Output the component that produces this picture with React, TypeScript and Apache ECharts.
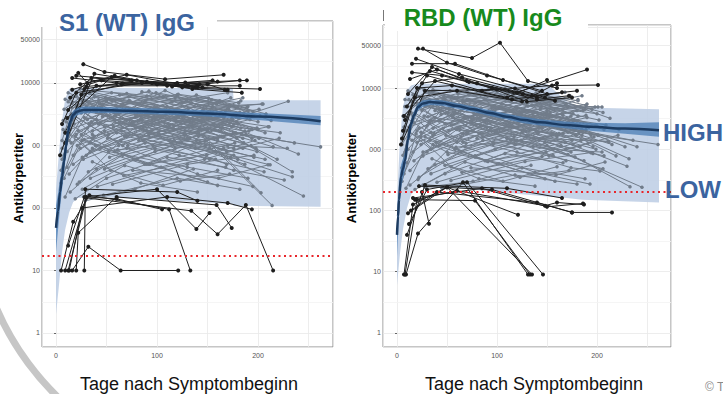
import React, { useEffect, useRef } from "react";
import * as echarts from "echarts";

// ---------- cut-offs ----------
const S1_CUTOFF = 17;
const RBD_CUTOFF = 200;

// ---------- fitted curves (day, titer) ----------
const S1_FIT_DAYS = [0, 2, 4, 6, 8, 10, 12, 14, 17, 21, 27, 40, 70, 110, 150, 200, 262];
const S1_FIT = [48, 90, 180, 320, 560, 1000, 1700, 2400, 3100, 3500, 3700, 3700, 3600, 3450, 3250, 2900, 2450];
const S1_CI_HI = [110, 170, 300, 480, 800, 1350, 2200, 2900, 3600, 4000, 4200, 4150, 4000, 3850, 3650, 3300, 2950];
const S1_CI_LO = [20, 45, 100, 200, 380, 720, 1300, 1950, 2650, 3050, 3250, 3300, 3250, 3100, 2900, 2550, 2100];

const S1_PI_DAYS = [0, 3, 6, 9, 13, 17, 22, 40, 100, 175, 176, 262];
const S1_PI_HI = [200, 800, 2500, 5500, 8000, 8300, 8300, 8300, 8300, 8300, 5300, 5300];
const S1_PI_LO = [2, 6, 20, 45, 85, 125, 145, 150, 135, 115, 108, 105];

const RBD_FIT_DAYS = [0, 1, 2, 4, 6, 8, 11, 14, 17, 21, 26, 33, 45, 60, 76, 93, 110, 127, 143, 168, 193, 228, 262];
const RBD_FIT = [40, 80, 150, 360, 480, 650, 1450, 2600, 3600, 4900, 5600, 5900, 5700, 5100, 4500, 3900, 3400, 3000, 2750, 2500, 2330, 2180, 2050];
const RBD_CI_HI = [90, 160, 280, 560, 700, 900, 1850, 3100, 4200, 5600, 6300, 6500, 6300, 5650, 5000, 4350, 3800, 3350, 3100, 2850, 2700, 2650, 2750];
const RBD_CI_LO = [18, 40, 80, 230, 330, 470, 1130, 2150, 3100, 4300, 4950, 5300, 5150, 4600, 4050, 3500, 3050, 2650, 2450, 2200, 2000, 1800, 1600];

const RBD_PI_DAYS = [0, 3, 6, 10, 14, 20, 60, 150, 170, 185, 262];
const RBD_PI_HI = [150, 1500, 5000, 9000, 11000, 11700, 11700, 11700, 6000, 4800, 4500];
const RBD_PI_LO = [6, 20, 50, 110, 180, 240, 230, 170, 160, 150, 135];

// ---------- axis helpers ----------
const X_LABELS = [0, 100, 200];
const Y_MINOR = [3.16, 31.6, 316, 3160, 22400];
const Y_EXTRA_BREAK = 50000;
const Y_LABEL_MAX = 50000;

// ---------- individual trajectories: [day, titer, day, titer, ...] ----------
const S1_GREY: number[][] = [
  [6, 900, 30, 3500, 95, 2200, 160, 1300],
  [7, 2500, 38, 6000, 110, 4200, 175, 2600],
  [8, 300, 26, 1200, 85, 2600, 150, 1700],
  [9, 5500, 45, 3800, 120, 6500, 180, 4000],
  [10, 1600, 52, 800, 130, 450, 190, 300],
  [11, 450, 33, 2200, 100, 3200, 165, 1900],
  [12, 7000, 60, 3200, 128, 1700, 185, 900],
  [13, 1200, 42, 5200, 118, 2600, 172, 1500],
  [14, 180, 40, 420, 98, 900, 158, 600],
  [15, 3200, 70, 900, 140, 350, 195, 220],
  [16, 4800, 55, 7000, 125, 4800, 178, 3000],
  [17, 700, 48, 1700, 115, 5000, 170, 7000],
  [18, 2200, 64, 4300, 135, 2000],
  [19, 140, 50, 300, 110, 650, 168, 450],
  [20, 6200, 58, 2600, 122, 1100, 176, 700],
  [21, 1000, 75, 2100, 145, 3600, 200, 2400],
  [22, 3800, 68, 1400, 138, 900, 188, 1500],
  [23, 260, 66, 700, 132, 1300],
  [24, 8000, 72, 5200, 142, 3200],
  [25, 1500, 80, 600, 150, 260],
  [26, 5000, 90, 6200, 155, 4200, 205, 4600],
  [27, 600, 62, 1000, 124, 2200, 182, 3400],
  [28, 2800, 86, 2000, 148, 1200, 210, 2000],
  [29, 130, 78, 200, 136, 420],
  [30, 4200, 96, 2800, 162, 5200],
  [31, 1900, 74, 3900, 144, 1800, 198, 900],
  [32, 380, 88, 1100, 158, 800, 212, 490],
  [33, 6800, 100, 4000, 165, 2300, 230, 5100],
  [34, 1100, 92, 500, 160, 230],
  [35, 2400, 102, 1500, 170, 1000, 229, 900],
  [36, 550, 84, 250, 140, 180],
  [37, 7500, 106, 6000, 168, 3600],
  [38, 1400, 108, 3000, 174, 2000, 240, 730],
  [40, 3400, 112, 1200, 180, 600, 234, 315],
  [41, 220, 104, 450, 166, 900],
  [43, 4600, 114, 3400, 184, 1500, 262, 950],
  [44, 900, 116, 1900, 186, 1100],
  [46, 2900, 118, 5800, 190, 3600],
  [47, 160, 120, 300, 182, 200],
  [49, 5800, 126, 2900, 194, 1800],
  [51, 1300, 122, 700, 176, 400, 226, 280],
  [53, 650, 127, 1500, 192, 2600],
  [54, 3600, 134, 2300, 203, 175],
  [56, 240, 130, 500, 196, 700],
  [57, 2000, 137, 4200, 202, 3000],
  [59, 4400, 141, 1600, 214, 110],
  [61, 850, 139, 1200, 191, 1700],
  [63, 6400, 146, 3800, 204, 4600],
  [65, 1700, 152, 900, 245, 155],
  [67, 330, 147, 600, 193, 1000],
  [69, 2600, 154, 5400, 208, 3200],
  [71, 1000, 157, 2700, 211, 2000],
  [73, 5200, 159, 2000, 234, 380],
  [76, 400, 161, 300, 210, 490],
  [79, 3000, 164, 1400],
  [82, 1200, 167, 3000],
  [85, 7200, 171, 4400],
  [89, 2200, 173, 650],
  [93, 500, 177, 1100],
  [97, 4000, 179, 2400],
  [101, 1600, 183, 5200],
  [105, 2800, 187, 1700],
  [5, 400, 14, 1800, 40, 2600],
  [6, 1200, 16, 4000, 50, 5200],
  [8, 700, 18, 2800, 36, 1500],
];

const S1_GREY_2: number[][] = [
  [5, 250, 20, 1500, 60, 3800, 120, 2400, 185, 1300],
  [6, 600, 22, 4200, 80, 2900, 140, 5600, 195, 3500],
  [7, 1800, 34, 800, 90, 1700, 150, 3300, 200, 1800],
  [8, 3800, 28, 6500, 75, 2300, 130, 1300, 180, 2200],
  [9, 150, 26, 650, 70, 1400, 125, 3100, 176, 1600],
  [10, 2400, 36, 1300, 82, 4600, 136, 2600, 190, 4200],
  [11, 800, 44, 3300, 96, 1000, 152, 600, 206, 380],
  [12, 5000, 48, 2000, 104, 3600, 162, 1400],
  [13, 350, 36, 900, 88, 500, 142, 1100, 196, 650],
  [14, 2900, 52, 5600, 112, 2100, 171, 3800],
  [15, 1100, 56, 2800, 108, 7600, 166, 2800],
  [16, 6000, 46, 4600, 92, 7400, 150, 3000],
  [17, 500, 60, 1600, 117, 1200, 174, 2700],
  [18, 3000, 66, 1000, 121, 2800, 179, 1300],
  [19, 1400, 54, 400, 106, 230, 160, 400],
  [20, 4400, 70, 6800, 131, 3900, 185, 5800],
  [21, 240, 64, 1200, 119, 3800, 176, 2200],
  [22, 1700, 58, 3000, 114, 1100, 169, 500],
  [23, 5600, 76, 2400, 129, 5200, 181, 2700],
  [24, 900, 82, 2500, 141, 1400, 199, 800],
  [25, 3300, 72, 6000, 127, 3400, 183, 1900],
  [26, 200, 68, 480, 123, 270, 172, 350],
  [27, 7200, 84, 3600, 139, 6400, 189, 4000],
  [28, 1250, 90, 500, 149, 700, 197, 1200],
  [29, 3900, 94, 1700, 153, 2900, 207, 1600],
  [30, 700, 79, 1900, 134, 4800, 186, 3300],
  [31, 2600, 99, 7000, 159, 4600],
  [32, 4900, 86, 1200, 144, 2500, 201, 3800],
  [34, 300, 98, 800, 157, 1800, 215, 950],
  [36, 1700, 103, 3700, 163, 1700, 219, 600],
  [38, 6000, 109, 2000, 169, 800, 221, 1300],
  [39, 1000, 111, 2600, 173, 5800],
  [42, 2200, 118, 900, 178, 1600, 236, 1100],
  [45, 4200, 121, 6600, 181, 4800],
  [48, 420, 124, 1100, 187, 500],
  [50, 3100, 128, 1500, 189, 2800],
  [52, 1500, 133, 3200, 194, 1300],
  [55, 5400, 136, 3000, 199, 1900],
  [58, 800, 142, 1900, 201, 1300],
  [62, 2300, 148, 1000, 207, 600],
  [66, 4600, 151, 5700, 213, 2500],
  [70, 1400, 156, 2200, 222, 1600],
  [74, 3500, 160, 1200],
  [78, 600, 166, 1400],
  [84, 2700, 170, 3900],
  [88, 5000, 172, 2300],
  [92, 1500, 176, 900],
];

const S1_BLACK_HIGH: number[][] = [
  [27, 20000, 48, 15000, 108, 11500, 166, 13500],
  [22, 14500, 31, 10000, 70, 13500, 130, 9000, 182, 11000],
  [16, 12000, 60, 10000, 120, 10000, 189, 11000],
  [16, 7800, 45, 11000, 100, 9500, 140, 8500, 202, 8000],
  [14, 5800, 35, 12000, 90, 10500, 135, 8000, 184, 7000],
  [12, 3700, 40, 9000, 110, 9000, 160, 10500],
  [11, 2750, 55, 12500, 125, 8500, 170, 7800],
  [9, 1600, 28, 8000, 80, 11000, 131, 9000],
  [9, 1100, 38, 14000, 95, 10000, 145, 8500],
  [4, 700, 25, 6500, 65, 9500, 140, 9000, 182, 9000],
  [20, 13000, 75, 11000, 150, 9500, 167, 7800],
  [6, 2200, 20, 7000, 85, 10000, 138, 8500],
  [24, 9500, 58, 13000, 115, 8800, 142, 9500],
  [30, 8800, 66, 9800, 128, 10200, 155, 11000],
];

const S1_BLACK_LOW: number[][] = [
  [9, 10, 30, 150, 60, 140, 105, 95],
  [12, 10, 30, 145, 134, 90, 160, 38, 188, 112, 215, 10],
  [16, 10, 32, 24, 64, 10, 121, 10],
  [20, 10, 22, 40, 60, 150, 159, 112, 174, 48],
  [5, 10, 17, 60, 33, 160, 112, 95, 133, 10],
  [12, 25, 28, 150, 100, 200, 139, 46, 152, 83],
  [13, 10, 26, 100, 110, 150, 170, 120, 194, 95],
  [28, 10, 29, 200, 120, 180, 140, 130],
];

const RBD_GREY: number[][] = [
  [5, 1200, 28, 5000, 90, 3000, 155, 1800],
  [6, 3500, 35, 8500, 105, 5500, 170, 3200],
  [7, 400, 24, 1600, 80, 3600, 145, 2200],
  [8, 6500, 42, 4500, 115, 7500, 178, 4800],
  [9, 2000, 50, 900, 125, 500, 188, 330],
  [10, 600, 32, 2800, 98, 4000, 160, 2400],
  [11, 9000, 58, 4000, 126, 2000, 183, 1100],
  [12, 1500, 40, 6500, 116, 3200, 171, 1900],
  [13, 260, 38, 560, 96, 1200, 156, 800],
  [14, 4000, 68, 1100, 138, 420, 193, 270],
  [15, 6000, 53, 9000, 123, 6000, 176, 3800],
  [16, 900, 46, 2200, 113, 6200, 168, 8500],
  [17, 2700, 62, 5500, 133, 2500],
  [18, 220, 48, 400, 108, 850, 166, 600],
  [19, 7800, 56, 3300, 120, 1400, 174, 900],
  [20, 1300, 73, 2700, 143, 4500, 198, 4900],
  [21, 4800, 66, 1800, 136, 1100, 186, 1900],
  [22, 350, 64, 900, 130, 1700],
  [23, 10000, 70, 6500, 140, 4000],
  [24, 1900, 78, 750, 148, 330],
  [25, 6300, 88, 7800, 153, 5300, 205, 4900],
  [26, 780, 60, 1300, 122, 2800, 180, 4300],
  [27, 3500, 84, 2500, 146, 1500, 211, 1350],
  [28, 240, 76, 300, 134, 550],
  [29, 5300, 94, 3500, 160, 6500],
  [30, 2400, 72, 4900, 142, 2300, 196, 1100],
  [31, 480, 86, 1400, 156, 1000, 205, 900],
  [32, 8500, 98, 5000, 163, 2900, 228, 1100],
  [33, 1400, 90, 650, 158, 300],
  [34, 3000, 100, 1900, 168, 1300, 230, 530],
  [35, 700, 82, 330, 138, 250],
  [36, 9400, 104, 7500, 166, 4500],
  [37, 1800, 106, 3800, 172, 2500, 240, 1100],
  [38, 4300, 110, 1500, 178, 750, 233, 245],
  [40, 290, 102, 580, 164, 1150],
  [41, 5800, 112, 4300, 182, 1900, 261, 1200],
  [42, 1150, 114, 2400, 184, 1400],
  [44, 3700, 116, 7300, 188, 4500],
  [45, 230, 118, 380, 180, 270],
  [47, 7300, 124, 3700, 192, 2300],
  [49, 1700, 120, 900, 174, 500, 203, 440],
  [51, 820, 125, 1900, 190, 3300],
  [52, 4500, 132, 2900, 201, 1700],
  [54, 310, 128, 630, 194, 880],
  [55, 2500, 135, 5300, 200, 3800],
  [57, 5500, 139, 2000, 212, 1300],
  [59, 1080, 137, 1500, 189, 2100],
  [61, 8000, 144, 4800, 202, 3000],
  [63, 2100, 150, 1150, 245, 240],
  [65, 420, 145, 760, 191, 1250],
  [67, 3300, 152, 6800, 206, 4000],
  [69, 1250, 155, 3400, 209, 2500],
  [71, 6500, 157, 2500, 232, 700],
  [74, 500, 159, 380, 208, 620],
  [77, 3800, 162, 1750],
  [80, 1500, 165, 3800],
  [83, 9000, 169, 5500],
  [87, 2800, 171, 820],
  [91, 630, 175, 1400],
  [95, 5000, 177, 3000],
  [99, 2000, 181, 6500],
  [103, 3500, 185, 2100],
  [5, 500, 12, 2300, 38, 3300],
  [6, 1500, 14, 5000, 48, 6500],
  [8, 900, 16, 3500, 34, 1900],
];

const RBD_GREY_2: number[][] = [
  [5, 300, 20, 2000, 60, 5200, 120, 3300, 185, 1700],
  [6, 800, 22, 5500, 80, 3800, 140, 7300, 195, 4500],
  [7, 2300, 34, 1000, 90, 2300, 150, 4300, 200, 2400],
  [8, 5000, 28, 8500, 75, 3100, 130, 1700, 180, 2900],
  [9, 230, 26, 900, 70, 1900, 125, 4100, 176, 2100],
  [10, 3200, 36, 1700, 82, 6000, 136, 3400, 190, 5500],
  [11, 1000, 44, 4300, 96, 1300, 152, 780, 206, 480],
  [12, 6500, 48, 2600, 104, 4700, 162, 1800],
  [13, 450, 36, 1200, 88, 650, 142, 1400, 196, 850],
  [14, 3800, 52, 7300, 112, 2700, 171, 5000],
  [15, 1400, 56, 3600, 108, 9800, 166, 3600],
  [16, 7800, 46, 6000, 92, 9600, 150, 3900],
  [17, 650, 60, 2100, 117, 1600, 174, 3500],
  [18, 3900, 66, 1300, 121, 3600, 179, 1700],
  [19, 1800, 54, 520, 106, 300, 160, 520],
  [20, 5700, 70, 8800, 131, 5100, 185, 7500],
  [21, 320, 64, 1600, 119, 4900, 176, 2900],
  [22, 2200, 58, 3900, 114, 1400, 169, 650],
  [23, 7300, 76, 3100, 129, 6800, 181, 3500],
  [24, 1200, 82, 3200, 141, 1800, 199, 1000],
  [25, 4300, 72, 7800, 127, 4400, 183, 2500],
  [26, 260, 68, 620, 123, 350, 172, 450],
  [27, 9300, 84, 4700, 139, 8300, 189, 5200],
  [28, 1600, 90, 650, 149, 900, 197, 1600],
  [29, 5100, 94, 2200, 153, 3800, 207, 2100],
  [30, 900, 79, 2500, 134, 6200, 186, 4300],
  [31, 3400, 99, 9100, 159, 6000],
  [32, 6400, 86, 1600, 144, 3200, 201, 4900],
  [34, 400, 98, 1000, 157, 2300, 215, 1200],
  [36, 2200, 103, 4800, 163, 2200, 219, 780],
  [38, 7800, 109, 2600, 169, 1000, 221, 1700],
  [39, 1300, 111, 3400, 173, 7500],
  [42, 2900, 118, 1200, 178, 2100, 236, 1400],
  [45, 5500, 121, 8600, 181, 6200],
  [48, 550, 124, 1400, 187, 650],
  [50, 4000, 128, 2000, 189, 3600],
  [52, 2000, 133, 4200, 194, 1700],
  [55, 7000, 136, 3900, 199, 2500],
  [58, 1000, 142, 2500, 201, 1700],
  [62, 3000, 148, 1300, 207, 780],
  [66, 6000, 151, 7400, 213, 3200],
  [70, 1800, 156, 2900, 222, 2100],
  [74, 4500, 160, 1600],
  [78, 780, 166, 1800],
  [84, 3500, 170, 5100],
  [88, 6500, 172, 3000],
  [92, 2000, 176, 1200],
];

const RBD_BLACK_HIGH: number[][] = [
  [21, 44000, 75, 31000, 103, 55000, 131, 13000, 160, 10000],
  [26, 44000, 50, 26000, 90, 16000, 145, 9000],
  [15, 25000, 58, 25000, 106, 13500, 150, 8000],
  [15, 18000, 45, 16000, 95, 10000, 140, 7000],
  [13, 14000, 40, 20000, 80, 12000, 130, 6000, 175, 7000],
  [11, 8000, 35, 22000, 70, 13000, 120, 8500, 190, 20000],
  [10, 5000, 30, 16000, 85, 9000, 155, 11000, 201, 11200],
  [8, 3000, 25, 12000, 65, 15000, 135, 7500, 180, 9000],
  [6, 2000, 20, 10000, 55, 11000, 115, 6500, 165, 8500],
  [5, 1500, 18, 7000, 60, 9000, 125, 6000, 160, 12000],
  [4, 1200, 28, 9000, 100, 9500, 140, 6500, 172, 7500],
  [7, 3500, 38, 13000, 110, 7000, 150, 13500],
  [19, 30000, 62, 17000, 118, 9800, 148, 7000],
  [33, 19000, 72, 12500, 126, 8000, 158, 6200],
];

const RBD_BLACK_LOW: number[][] = [
  [7, 9, 16, 125, 50, 240, 121, 85],
  [9, 9, 21, 42, 66, 290, 131, 9],
  [8, 9, 20, 150, 78, 145, 133, 9],
  [12, 60, 30, 220, 70, 290, 146, 9],
  [14, 100, 40, 200, 140, 135, 175, 93],
  [18, 150, 60, 210, 148, 120, 160, 135, 187, 125],
  [22, 250, 95, 220, 175, 93, 215, 93],
  [25, 200, 32, 61],
  [11, 90, 50, 240, 135, 9],
  [16, 160, 85, 230, 150, 115, 186, 130],
  [10, 40, 28, 260, 110, 230, 165, 160],
];

// ---------- builders ----------
const FONT = '"Liberation Sans", Arial, sans-serif';
const GREY = "#717c8a";
const BLACK = "#1e1e1e";

function pairs(flat: number[]): number[][] {
  const out: number[][] = [];
  for (let i = 0; i < flat.length; i += 2) out.push([flat[i], flat[i + 1]]);
  return out;
}

function trajSeries(list: number[][], g: number, color: string, size: number, z: number) {
  return list.map((flat) => ({
    type: "line",
    xAxisIndex: g,
    yAxisIndex: g,
    data: pairs(flat),
    symbol: "circle",
    symbolSize: size,
    showSymbol: true,
    lineStyle: { color, width: 1 },
    itemStyle: { color },
    z,
    silent: true,
    animation: false,
  }));
}

function bandSeries(days: number[], hi: number[], lo: number[], g: number, color: string, opacity: number, z: number) {
  return {
    type: "custom",
    xAxisIndex: g,
    yAxisIndex: g,
    z,
    silent: true,
    clip: true,
    data: [[days[0], hi[0]]],
    renderItem: (_params: any, api: any) => {
      const pts: number[][] = [];
      for (let i = 0; i < days.length; i++) pts.push(api.coord([days[i], hi[i]]));
      for (let i = days.length - 1; i >= 0; i--) pts.push(api.coord([days[i], lo[i]]));
      return { type: "polygon", shape: { points: pts }, style: { fill: color, opacity } };
    },
  };
}

type Panel = {
  grid: any;
  xmin: number;
  xmax: number;
  ymin: number;
  ymax: number;
  grey: number[][];
  high: number[][];
  low: number[][];
  fitDays: number[];
  fit: number[];
  ciHi: number[];
  ciLo: number[];
  piDays: number[];
  piHi: number[];
  piLo: number[];
  cutoff: number;
};

const PANELS: Panel[] = [
  {
    grid: { left: 42, top: 21, width: 291, height: 326 },
    xmin: -13.9, xmax: 274.3, ymin: 0.597, ymax: 98000,
    grey: [...S1_GREY, ...S1_GREY_2], high: S1_BLACK_HIGH, low: S1_BLACK_LOW,
    fitDays: S1_FIT_DAYS, fit: S1_FIT, ciHi: S1_CI_HI, ciLo: S1_CI_LO,
    piDays: S1_PI_DAYS, piHi: S1_PI_HI, piLo: S1_PI_LO,
    cutoff: S1_CUTOFF,
  },
  {
    grid: { left: 383, top: 25, width: 288, height: 322 },
    xmin: -14, xmax: 274, ymin: 0.59, ymax: 107000,
    grey: [...RBD_GREY, ...RBD_GREY_2], high: RBD_BLACK_HIGH, low: RBD_BLACK_LOW,
    fitDays: RBD_FIT_DAYS, fit: RBD_FIT, ciHi: RBD_CI_HI, ciLo: RBD_CI_LO,
    piDays: RBD_PI_DAYS, piHi: RBD_PI_HI, piLo: RBD_PI_LO,
    cutoff: RBD_CUTOFF,
  },
];

function buildOption() {
  const grids: any[] = [];
  const xAxes: any[] = [];
  const yAxes: any[] = [];
  const series: any[] = [];

  PANELS.forEach((p, g) => {
    grids.push({ ...p.grid, show: true, backgroundColor: "#ffffff", borderColor: "#8c8c8c", borderWidth: 1 });
    xAxes.push({
      type: "value",
      gridIndex: g,
      min: p.xmin,
      max: p.xmax,
      axisLine: { show: false },
      axisTick: { show: false },
      splitLine: { show: true, lineStyle: { color: "#e8e8e8", width: 0.8 } },
      axisLabel: {
        fontSize: 7,
        color: "#555",
        fontFamily: FONT,
        margin: 5,
        showMinLabel: false,
        showMaxLabel: false,
        formatter: (v: number) => (X_LABELS.indexOf(Math.round(v)) >= 0 ? String(Math.round(v)) : ""),
      },
    });
    yAxes.push({
      type: "log",
      logBase: 10,
      gridIndex: g,
      min: p.ymin,
      max: p.ymax,
      axisLine: { show: false },
      axisTick: { show: true, length: 2, lineStyle: { color: "#666" } },
      splitLine: { show: true, lineStyle: { color: "#e8e8e8", width: 0.8 } },
      axisLabel: {
        fontSize: 7,
        color: "#555",
        fontFamily: FONT,
        margin: 2,
        showMinLabel: false,
        showMaxLabel: false,
        formatter: (v: number) => (v > Y_LABEL_MAX ? "" : String(Math.round(v))),
      },
    });

    // minor grid + extra 50000 break (kept beneath everything)
    series.push({
      type: "line",
      xAxisIndex: g,
      yAxisIndex: g,
      data: [[p.fitDays[0], p.fit[0]]],
      symbol: "none",
      lineStyle: { opacity: 0 },
      z: 1,
      silent: true,
      markLine: {
        silent: true,
        symbol: "none",
        animation: false,
        z: 1,
        data: [
          ...Y_MINOR.map((v) => ({
            yAxis: v,
            lineStyle: { color: "#f2f2f2", width: 0.8, type: "solid" },
            label: { show: false },
          })),
          {
            yAxis: Y_EXTRA_BREAK,
            lineStyle: { color: "#e8e8e8", width: 0.8, type: "solid" },
            label: { show: true, position: "start", formatter: String(Y_EXTRA_BREAK), fontSize: 7, color: "#555", fontFamily: FONT, distance: 2 },
          },
        ],
      },
    });

    series.push(bandSeries(p.piDays, p.piHi, p.piLo, g, "#bccde4", 0.85, 2));
    series.push(...trajSeries(p.grey, g, GREY, 3.5, 3));
    series.push(...trajSeries(p.high, g, BLACK, 4, 4));
    series.push(...trajSeries(p.low, g, BLACK, 4, 4));
    series.push(bandSeries(p.fitDays, p.ciHi, p.ciLo, g, "#4a7db6", 0.75, 5));
    series.push({
      type: "line",
      xAxisIndex: g,
      yAxisIndex: g,
      data: p.fitDays.map((d, i) => [d, p.fit[i]]),
      smooth: 0.35,
      smoothMonotone: "x",
      symbol: "none",
      lineStyle: { color: "#1d3b60", width: 2.5 },
      z: 6,
      silent: true,
    });
    series.push({
      type: "line",
      xAxisIndex: g,
      yAxisIndex: g,
      data: [[p.fitDays[0], p.fit[0]]],
      symbol: "none",
      lineStyle: { opacity: 0 },
      z: 7,
      silent: true,
      markLine: {
        silent: true,
        symbol: "none",
        animation: false,
        z: 7,
        label: { show: false },
        lineStyle: { color: "#e8262b", width: 2, type: [2, 3.5] },
        data: [{ yAxis: p.cutoff }],
      },
    });
  });

  const graphic: any[] = [
    {
      type: "arc",
      shape: { cx: 250, cy: 199, r: 276, startAngle: (125 * Math.PI) / 180, endAngle: (162 * Math.PI) / 180, clockwise: true },
      style: { stroke: "#c6c6c6", lineWidth: 7, fill: "none" },
      z: 50,
    },
    { type: "rect", shape: { x: 28, y: 0, width: 189, height: 27 }, style: { fill: "#fff" }, z: 100 },
    { type: "rect", shape: { x: 385, y: 0, width: 203, height: 31 }, style: { fill: "#fff" }, z: 100 },
    { type: "line", shape: { x1: 383.5, y1: 10, x2: 383.5, y2: 21 }, style: { stroke: "#777", lineWidth: 1 }, z: 101 },
    { type: "rect", shape: { x: 6, y: 126, width: 26, height: 106 }, style: { fill: "#fff" }, z: 100 },
    { type: "rect", shape: { x: 340, y: 126, width: 29, height: 106 }, style: { fill: "#fff" }, z: 100 },
    {
      type: "text", x: 127, y: 22, z: 102,
      style: { text: "S1 (WT) IgG", font: `bold 24px ${FONT}`, fill: "#3b64a0", textAlign: "center", textVerticalAlign: "middle" },
    },
    {
      type: "text", x: 483, y: 17, z: 102,
      style: { text: "RBD (WT) IgG", font: `bold 24px ${FONT}`, fill: "#178a1c", textAlign: "center", textVerticalAlign: "middle" },
    },
    {
      type: "text", x: 18, y: 178, rotation: Math.PI / 2, z: 102,
      style: { text: "Antikörpertiter", font: `bold 13px ${FONT}`, fill: "#000", textAlign: "center", textVerticalAlign: "middle" },
    },
    {
      type: "text", x: 351, y: 178, rotation: Math.PI / 2, z: 102,
      style: { text: "Antikörpertiter", font: `bold 13px ${FONT}`, fill: "#000", textAlign: "center", textVerticalAlign: "middle" },
    },
    {
      type: "text", x: 189, y: 384, z: 102,
      style: { text: "Tage nach Symptombeginn", font: `18px ${FONT}`, fill: "#111", textAlign: "center", textVerticalAlign: "middle" },
    },
    {
      type: "text", x: 534, y: 384, z: 102,
      style: { text: "Tage nach Symptombeginn", font: `18px ${FONT}`, fill: "#111", textAlign: "center", textVerticalAlign: "middle" },
    },
    {
      type: "text", x: 663, y: 132, z: 102,
      style: { text: "HIGH", font: `bold 24px ${FONT}`, fill: "#3b64a0", textAlign: "left", textVerticalAlign: "middle" },
    },
    {
      type: "text", x: 665, y: 189, z: 102,
      style: { text: "LOW", font: `bold 24px ${FONT}`, fill: "#3b64a0", textAlign: "left", textVerticalAlign: "middle" },
    },
    {
      type: "text", x: 705, y: 387, z: 102,
      style: { text: "© T", font: `12px ${FONT}`, fill: "#8a8a8a", textAlign: "left", textVerticalAlign: "middle" },
    },
  ];

  return {
    animation: false,
    backgroundColor: "#ffffff",
    grid: grids,
    xAxis: xAxes,
    yAxis: yAxes,
    series,
    graphic,
  };
}

export default function App() {
  const ref = useRef<HTMLDivElement>(null);
  useEffect(() => {
    if (!ref.current) return;
    const chart = echarts.init(ref.current, null, { renderer: "svg" });
    chart.setOption(buildOption() as any);
    return () => chart.dispose();
  }, []);
  return <div ref={ref} style={{ position: "absolute", left: 0, top: 0, width: 723, height: 394 }} />;
}
